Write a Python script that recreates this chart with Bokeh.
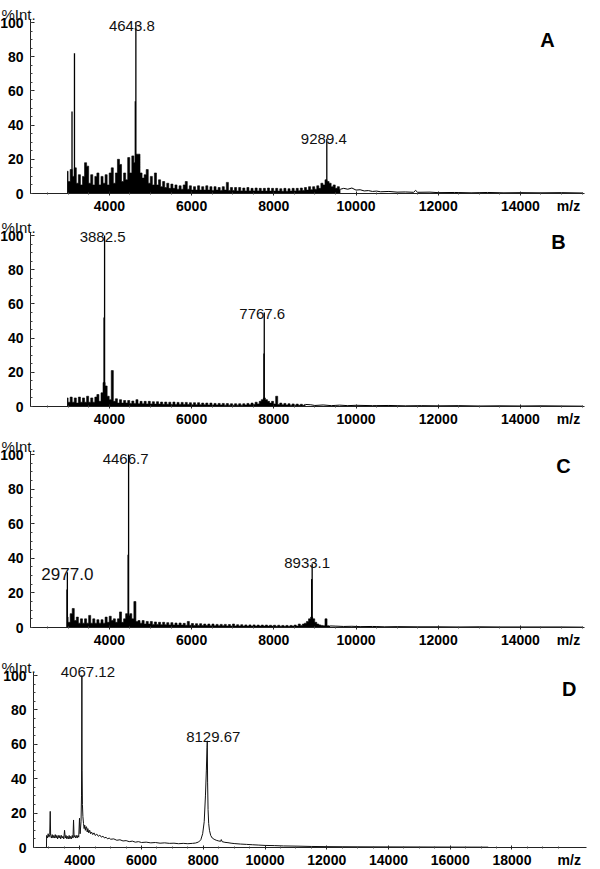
from bokeh.plotting import figure
from bokeh.models import Label, FixedTicker, Range1d, SingleIntervalTicker
from bokeh.layouts import column
from bokeh.embed import file_html
from bokeh.resources import INLINE

# ---------------- data ----------------
DENSE_STEP = 50  # m/z spacing of the sampled dense (noisy) part of spectra A-C

# Panel A
A_dense_start = 2970
A_dense_int = [13, 7, 14, 10, 15, 6, 11, 5, 10, 18, 16, 6, 11, 5, 10, 12, 5, 10, 6, 11,
               5, 12, 15, 6, 12, 20, 17, 7, 12, 8, 21, 12, 22, 18, 23, 23, 12, 9, 11, 14,
               6, 10, 5, 12, 5, 8, 4, 7, 3.5, 6, 3, 5.5, 3, 5, 2.5, 4.5, 2.5, 5, 7, 2.5,
               4.5, 2, 4, 2, 4.5, 2, 4, 2, 4.5, 2, 4, 1.8, 4, 2, 3.5, 1.8, 4, 2, 6.5, 1.8,
               3.5, 1.8, 3.5, 1.5, 3.5, 1.5, 3.2, 1.5, 3.5, 1.5, 3, 1.5, 3.2, 1.5, 3, 1.4,
               3, 1.4, 3.2, 1.4, 3, 1.4, 3, 1.4, 2.8, 1.3, 3, 1.3, 2.8, 1.4, 3, 1.5, 3, 1.6,
               3.2, 1.8, 3.5, 2, 4, 2.2, 4, 2.5, 4.5, 3, 6, 5, 8, 7, 6, 4, 5, 3, 4, 2.5]
A_tail_mz = [9700, 9800, 9900, 10000, 10100, 10200, 10300, 10400, 10500, 10600, 10800,
             11000, 11200, 11400, 11450, 11500, 11800, 12000, 12400, 12800, 13200, 13600,
             14000, 14500, 15000, 15520]
A_tail_int = [3, 2.5, 3.2, 2, 2.2, 1.5, 1.7, 1.2, 1.4, 1, 1.2, 0.8, 0.9, 0.7, 1.8, 0.7,
              0.8, 0.5, 0.6, 0.4, 0.6, 0.4, 0.5, 0.4, 0.5, 0.3]
A_peak_mz = [3090, 3150, 4630, 4643.8, 9289.4]
A_peak_int = [48, 82, 54, 100, 32]
A_label_mz = [4643.8, 9289.4]
A_label_y = [98, 32]
A_label_text = ["4643.8", "9289.4"]

# Panel B
B_dense_start = 2970
B_dense_int = [5, 2.5, 5.5, 2.5, 5, 2, 5.5, 2.5, 5, 2.5, 6, 2.5, 5, 2.5, 5.5, 7, 3, 8, 14, 12,
               6, 4, 21, 3, 4.5, 2, 4, 2, 3.5, 2, 3.5, 1.8, 3.2, 1.8, 4, 1.6, 3, 1.6, 3, 1.5,
               3, 1.5, 2.8, 1.4, 2.8, 1.4, 2.6, 1.3, 2.6, 1.3, 2.5, 1.2, 2.6, 1.2, 2.4, 1.2,
               2.4, 1.1, 2.4, 1.1, 2.2, 1, 2.2, 1, 2.2, 1, 2, 1, 2, 0.9, 2, 0.9, 1.8, 0.9,
               1.8, 0.9, 1.8, 0.8, 1.7, 0.8, 1.6, 0.8, 1.6, 0.8, 1.6, 0.8, 1.6, 0.9, 1.8, 1,
               2, 1.2, 2.5, 1.5, 3, 4, 5, 4, 3, 2, 3, 1.5, 6, 1.2, 2, 1, 1.8, 0.9, 1.6, 0.8,
               1.5, 0.8, 1.4, 0.7, 1.3, 0.7, 1.2]
B_tail_mz = [8900, 9000, 9200, 9400, 9600, 9800, 10000, 10400, 10800, 11200, 11600, 12000,
             12500, 13000, 13500, 14000, 14500, 15000, 15520]
B_tail_int = [1, 0.6, 0.9, 0.5, 0.8, 0.5, 0.7, 0.5, 0.6, 0.4, 0.5, 0.4, 0.5, 0.3, 0.4,
              0.3, 0.4, 0.3, 0.2]
B_peak_mz = [3870, 3882.5, 7760, 7767.6]
B_peak_int = [52, 100, 31, 55]
B_label_mz = [3882.5, 7767.6]
B_label_y = [99, 54]
B_label_text = ["3882.5", "7767.6"]

# Panel C
C_dense_start = 2970
C_dense_int = [6, 3, 8, 11, 4, 6, 2.5, 5, 2.5, 5, 2.5, 7, 2.5, 5, 2.5, 4.5, 2.5, 4.5, 2.5, 6,
               3, 6.5, 4, 5, 3, 5, 9, 3, 5, 8, 7, 8, 5, 15, 3.5, 4, 2.5, 4, 2, 3.5, 2, 3.5,
               1.8, 3.2, 1.8, 3, 1.6, 3, 1.6, 2.8, 1.5, 2.8, 1.5, 2.6, 1.4, 2.6, 1.4, 2.4,
               1.3, 3.5, 1.3, 2.3, 1.2, 2.2, 1.2, 2.2, 1.1, 2, 1.1, 2, 1, 2, 1, 1.8, 1, 1.8,
               1, 1.8, 0.9, 1.7, 0.9, 2, 0.9, 1.6, 0.9, 1.6, 0.8, 1.5, 0.8, 1.5, 0.8, 1.5,
               0.8, 1.4, 0.8, 1.4, 0.8, 1.4, 0.8, 1.3, 0.8, 1.3, 0.7, 1.3, 0.7, 1.2, 0.7,
               1.2, 0.7, 1.2, 0.8, 1.4, 0.8, 2, 1.2, 2, 2.5, 3.5, 5, 6, 5, 3, 2, 1.5, 1.2, 1,
               5, 1, 0.9]
C_tail_mz = [9500, 9700, 9900, 10100, 10400, 10700, 11000, 11500, 12000, 12500, 13000,
             13500, 14000, 14500, 15000, 15520]
C_tail_int = [0.8, 0.6, 0.7, 0.5, 0.6, 0.4, 0.5, 0.4, 0.4, 0.3, 0.4, 0.3, 0.3, 0.3, 0.3, 0.2]
C_peak_mz = [2968, 2977.0, 4455, 4466.7, 8920, 8933.1]
C_peak_int = [22, 32, 42, 100, 28, 37]
C_label_mz = [2977.0, 4466.7, 8933.1]
C_label_y = [31, 97.5, 37]
C_label_text = ["2977.0", "4466.7", "8933.1"]

# Panel D (single continuous trace)
D_mz = [2920, 2925, 2950, 2975, 3000, 3025, 3042, 3055, 3080, 3105, 3130, 3155, 3180, 3205,
        3230, 3255, 3280, 3305, 3330, 3355, 3380, 3405, 3430, 3455, 3480, 3506, 3530, 3555,
        3580, 3605, 3630, 3655, 3680, 3705, 3730, 3755, 3780, 3797, 3815, 3840, 3865, 3890,
        3915, 3940, 3965, 3990, 4010, 4040, 4055, 4067.12, 4075, 4085, 4100, 4120, 4140,
        4160, 4180, 4200, 4219, 4240, 4260, 4290, 4320, 4350, 4380, 4420, 4460, 4500, 4550,
        4600, 4650, 4700, 4750, 4800, 4850, 4900, 4950, 5000, 5100, 5200, 5300, 5400, 5500,
        5600, 5700, 5800, 5900, 6000, 6150, 6300, 6450, 6600, 6750, 6900, 7050, 7200, 7350,
        7500, 7650, 7750, 7850, 7920, 7980, 8030, 8070, 8100, 8120, 8129.67, 8140, 8155,
        8175, 8200, 8240, 8290, 8350, 8420, 8500, 8560, 8583, 8610, 8700, 8800, 8900, 9000,
        9200, 9400, 9600, 9800, 10000, 10300, 10600, 11000, 11500, 12000, 12500, 13000,
        14000, 15000, 16000, 17230]
D_int = [0, 7, 5.5, 8, 6, 7.5, 21, 7, 5.5, 7.5, 5.5, 7, 5.5, 7.5, 5.5, 7, 5, 7, 5.5, 7, 5,
         7, 5.5, 6.5, 5, 10, 5.5, 7, 5, 6.5, 5, 7, 5, 6.5, 5, 7, 5.5, 16, 6, 7, 5.5, 7, 5.5,
         7, 6, 17, 8, 15, 30, 100, 45, 25, 18, 14, 11, 13, 10, 12, 12, 9, 11, 8.5, 10, 8, 9,
         7.5, 8.5, 7, 7.8, 6.5, 7.2, 6, 6.6, 5.5, 6, 5, 5.5, 4.8, 5, 4.2, 4.5, 3.8, 4, 3.4,
         3.7, 3.1, 3.4, 2.9, 3.1, 2.7, 2.9, 2.5, 2.7, 2.4, 2.5, 2.2, 2.4, 2.2, 2.4, 2.6, 3.2,
         4.5, 8, 15, 30, 45, 58, 62, 38, 22, 14, 10, 7, 5.5, 4.8, 4.2, 3.8, 3.6, 4.6, 3.4,
         3.0, 2.8, 2.5, 2.3, 2.0, 1.8, 1.6, 1.4, 1.2, 1.1, 0.9, 0.8, 0.6, 0.5, 0.45, 0.4,
         0.35, 0.3, 0.25, 0.2]
D_label_mz = [4067.12, 8129.67]
D_label_y = [102, 64]
D_label_text = ["4067.12", "8129.67"]

ABC_xticks = [4000, 6000, 8000, 10000, 12000, 14000]
D_xticks = [4000, 6000, 8000, 10000, 12000, 14000, 16000, 18000]
y_ticks_interval = 20

FONT = "Liberation Sans"
W = 600


def base_fig(height, y100_px, y0_px, axis_left_px, x_axis_lo, x_axis_hi, px_per_unit,
             xticks, minor):
    # frame covers the whole canvas; axes are drawn at fixed data locations
    s = (y0_px - y100_px) / 100.0
    y_max = 100 + y100_px / s
    y_min = -(height - y0_px) / s
    x_min = x_axis_lo - axis_left_px / px_per_unit
    x_max = x_axis_lo + (W - axis_left_px) / px_per_unit
    p = figure(width=W, height=height, x_range=Range1d(x_min, x_max),
               y_range=Range1d(y_min, y_max),
               output_backend="svg", toolbar_location=None,
               min_border=0, min_border_left=0, min_border_right=0,
               min_border_top=0, min_border_bottom=0)
    p.outline_line_color = None
    p.grid.visible = False
    p.background_fill_color = "white"
    p.border_fill_color = "white"
    p.xaxis.ticker = FixedTicker(ticks=xticks, minor_ticks=minor)
    p.yaxis.ticker = SingleIntervalTicker(interval=y_ticks_interval, num_minor_ticks=4)
    p.xaxis.fixed_location = 0
    p.yaxis.fixed_location = x_axis_lo
    p.xaxis.bounds = (x_axis_lo, x_axis_hi)
    p.yaxis.bounds = (0, 101.5)
    for ax in list(p.xaxis) + list(p.yaxis):
        ax.axis_line_color = "#222222"
        ax.major_tick_line_color = "#222222"
        ax.minor_tick_line_color = "#444444"
        ax.major_label_text_font = FONT
        ax.major_label_text_font_style = "bold"
        ax.major_label_text_font_size = "14px"
        ax.major_label_text_color = "black"
    p.yaxis.major_tick_in = 4
    p.yaxis.major_tick_out = 0
    p.yaxis.minor_tick_in = 2
    p.yaxis.minor_tick_out = 0
    p.yaxis.major_label_standoff = 7
    p.xaxis.major_tick_in = 2
    p.xaxis.major_tick_out = 2
    p.xaxis.minor_tick_in = 1
    p.xaxis.minor_tick_out = 1
    p.xaxis.major_label_standoff = 5
    return p


def decorate(p, x_axis_lo, axis_left_px, letter, letter_x, letter_y, mz_x, labels):
    p.add_layout(Label(x=x_axis_lo, y=100, text="%Int.", x_offset=-axis_left_px + 1,
                       y_offset=8,
                       text_font=FONT, text_font_size="15px", text_color="#111111",
                       text_align="left", text_baseline="alphabetic"))
    p.add_layout(Label(x=mz_x, y=0, text="m/z", y_offset=-12,
                       text_font=FONT, text_font_size="14px", text_font_style="bold",
                       text_color="black", text_align="center", text_baseline="middle"))
    p.add_layout(Label(x=letter_x, y=letter_y, text=letter,
                       text_font=FONT, text_font_size="20px", text_font_style="bold",
                       text_color="black", text_align="center", text_baseline="alphabetic"))
    for (mz, y, txt, size, xo) in labels:
        p.add_layout(Label(x=mz, y=y, text=txt, x_offset=xo,
                           text_font=FONT, text_font_size=size, text_color="#111111",
                           text_align="center", text_baseline="alphabetic"))


def noisy_panel(height, y100_px, y0_px, dense_start, dense_int, tail_mz, tail_int,
                peak_mz, peak_int, letter, letter_x, letter_y, labels):
    lo, hi = 2080, 15560
    minor = [v for v in range(2500, 15600, 500) if v % 2000]
    p = base_fig(height, y100_px, y0_px, 30, lo, hi, 0.0411, ABC_xticks, minor)
    dmz = [dense_start + DENSE_STEP * i for i in range(len(dense_int))]
    # dense region as a solid stepped fill; the sparse tail as a thin continuous trace
    p.varea_step(x=dmz, y1=[0] * len(dmz), y2=dense_int, step_mode="center",
                 fill_color="black", fill_alpha=1.0)
    p.step(dmz, dense_int, mode="center", line_color="black", line_width=0.6)
    mz = dmz[-1:] + tail_mz
    inten = dense_int[-1:] + tail_int
    p.line(mz, inten, line_color="black", line_width=1.0)
    p.segment(x0=peak_mz, y0=[0] * len(peak_mz), x1=peak_mz, y1=peak_int,
              line_color="black", line_width=1.3)
    decorate(p, lo, 30, letter, letter_x, letter_y, 15170, labels)
    return p


pA = noisy_panel(214, 22, 193, A_dense_start, A_dense_int, A_tail_mz, A_tail_int,
                 A_peak_mz, A_peak_int, "A", 14660, 89.5,
                 [(m, y, t, "15px", xo) for m, y, t, xo in
                  zip(A_label_mz, A_label_y, A_label_text, [-4, -3])])
pB = noisy_panel(221, 21, 192, B_dense_start, B_dense_int, B_tail_mz, B_tail_int,
                 B_peak_mz, B_peak_int, "B", 14926, 96,
                 [(m, y, t, "15px", xo) for m, y, t, xo in
                  zip(B_label_mz, B_label_y, B_label_text, [-2, -2])])
pC = noisy_panel(220, 19, 192, C_dense_start, C_dense_int, C_tail_mz, C_tail_int,
                 C_peak_mz, C_peak_int, "C", 15048, 93.6,
                 [(m, y, t, s, xo) for m, y, t, s, xo in
                  zip(C_label_mz, C_label_y, C_label_text, ["17px", "15px", "15px"], [0, -3, -5])])

pD = base_fig(214, 20, 192, 33, 2500, 20400, 0.03087, D_xticks,
              [v for v in range(3000, 20400, 500) if v % 2000])
pD.line(D_mz, D_int, line_color="#111111", line_width=1.0)
decorate(pD, 2500, 33, "D", 19856, 92.4, 19856,
         [(m, y, t, "15px", 6) for m, y, t in zip(D_label_mz, D_label_y, D_label_text)])

layout = column(pA, pB, pC, pD, spacing=0)
open("out.html", "w").write(file_html(layout, INLINE))
